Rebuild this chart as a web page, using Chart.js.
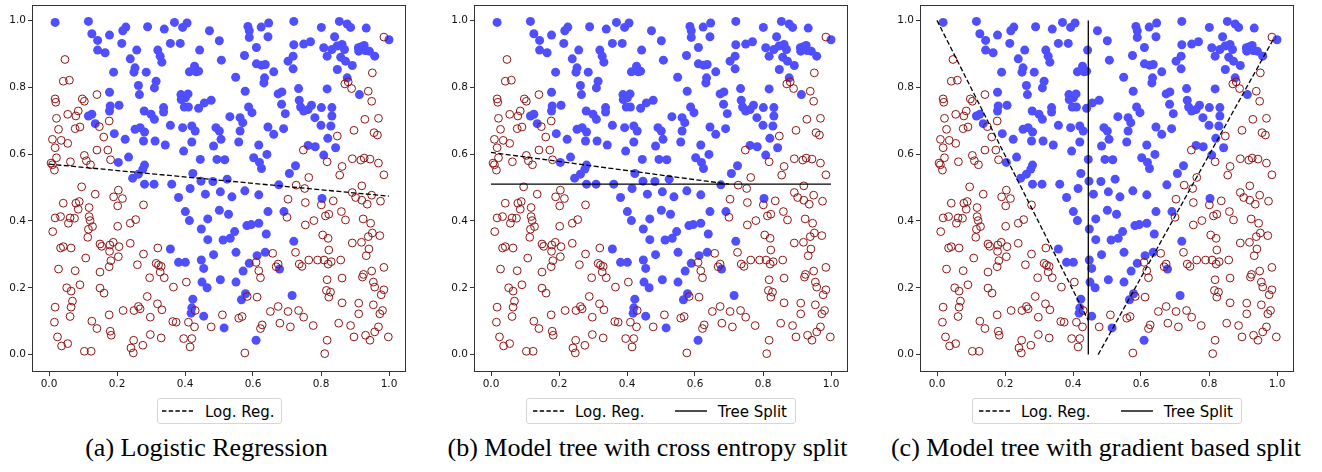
<!DOCTYPE html>
<html>
<head>
<meta charset="utf-8">
<script src="https://cdn.jsdelivr.net/npm/chart.js@4.4.1/dist/chart.umd.min.js"></script>
<style>
  body { margin: 0; width: 1322px; height: 472px; background: #fff; position: relative; overflow: hidden; font-family: "DejaVu Sans", sans-serif; }
  canvas.panel { position: absolute; top: 0; }
  .legend { position: absolute; top: 398px; height: 24px; border: 1px solid #d6d6d6; border-radius: 3px; background: #fff; }
  .ltext { position: absolute; top: 404.6px; font-size: 15px; line-height: 15px; color: #000; white-space: nowrap; }
  .lsample { position: absolute; top: 409px; }
  .caption { position: absolute; top: 435px; width: 500px; text-align: center; font-family: "Liberation Serif", serif; font-size: 26px; line-height: 26px; color: #000; white-space: nowrap; }
</style>
</head>
<body>
<canvas id="panelA" class="panel" width="414" height="395" style="left:0px"></canvas>
<canvas id="panelB" class="panel" width="414" height="395" style="left:442px"></canvas>
<canvas id="panelC" class="panel" width="414" height="395" style="left:888px"></canvas>

<!-- legends -->
<div class="legend" style="left:157px;width:123px"></div>
<svg class="lsample" style="left:162px" width="31" height="4"><line x1="0" y1="2" x2="31" y2="2" stroke="#000" stroke-width="1.4" stroke-dasharray="4.4 2.3"/></svg>
<div class="ltext" style="left:205px">Log. Reg.</div>

<div class="legend" style="left:526px;width:268px"></div>
<svg class="lsample" style="left:532.7px" width="31" height="4"><line x1="0" y1="2" x2="31" y2="2" stroke="#000" stroke-width="1.4" stroke-dasharray="4.4 2.3"/></svg>
<div class="ltext" style="left:575px">Log. Reg.</div>
<svg class="lsample" style="left:675px" width="32" height="4"><line x1="0" y1="2" x2="32" y2="2" stroke="#000" stroke-width="1.4"/></svg>
<div class="ltext" style="left:717.7px">Tree Split</div>

<div class="legend" style="left:972px;width:268px"></div>
<svg class="lsample" style="left:978.7px" width="31" height="4"><line x1="0" y1="2" x2="31" y2="2" stroke="#000" stroke-width="1.4" stroke-dasharray="4.4 2.3"/></svg>
<div class="ltext" style="left:1021px">Log. Reg.</div>
<svg class="lsample" style="left:1121px" width="32" height="4"><line x1="0" y1="2" x2="32" y2="2" stroke="#000" stroke-width="1.4"/></svg>
<div class="ltext" style="left:1163.7px">Tree Split</div>

<!-- captions -->
<div class="caption" style="left:-43.5px">(a) Logistic Regression</div>
<div class="caption" style="left:397.5px">(b) Model tree with cross entropy split</div>
<div class="caption" style="left:846px">(c) Model tree with gradient based split</div>

<script>
// tick positions and labels, shared by both axes of every panel
const tickValues = [0, 0.2, 0.4, 0.6, 0.8, 1.0];
const tickLabels = ['0.0', '0.2', '0.4', '0.6', '0.8', '1.0'];

// class 1 (filled blue) samples, [x, y]
const bluePoints = [
  [0.018,0.994],[0.116,0.997],[0.126,0.960],[0.178,0.956],[0.217,0.969],[0.226,0.980],[0.290,0.981],[0.339,0.974],
  [0.369,0.994],[0.393,0.979],[0.406,0.992],[0.472,0.969],[0.585,0.982],[0.589,0.969],[0.624,0.980],[0.646,0.992],
  [0.720,0.997],[0.801,0.979],[0.854,0.997],[0.877,0.989],[0.887,0.979],[0.933,0.977],
  [0.143,0.940],[0.143,0.911],[0.165,0.903],[0.214,0.931],[0.258,0.911],[0.320,0.911],[0.357,0.931],[0.386,0.931],
  [0.443,0.911],[0.501,0.939],[0.589,0.949],[0.610,0.919],[0.644,0.951],[0.720,0.927],[0.749,0.929],[0.769,0.936],
  [0.808,0.918],[0.840,0.951],[0.832,0.913],[0.847,0.923],[0.862,0.928],[0.869,0.913],[0.910,0.918],[0.917,0.920],
  [0.927,0.925],[0.930,0.910],[0.911,0.908],[0.942,0.908],[1.000,0.942],
  [0.190,0.845],[0.239,0.885],[0.253,0.858],[0.250,0.845],[0.286,0.845],[0.327,0.893],[0.332,0.875],[0.413,0.846],
  [0.428,0.863],[0.433,0.846],[0.440,0.848],[0.507,0.881],[0.549,0.830],[0.575,0.895],[0.610,0.870],[0.625,0.866],
  [0.636,0.868],[0.661,0.846],[0.703,0.878],[0.718,0.893],[0.718,0.855],[0.818,0.893],[0.858,0.890],[0.872,0.878],
  [0.848,0.853],[0.892,0.865],[0.958,0.893],
  [0.263,0.805],[0.266,0.778],[0.178,0.785],[0.315,0.818],[0.310,0.798],[0.388,0.778],[0.401,0.768],[0.409,0.780],
  [0.577,0.788],[0.632,0.813],[0.634,0.828],[0.674,0.780],[0.685,0.786],[0.734,0.796],[0.818,0.795],[0.877,0.828],
  [0.913,0.778],
  [0.116,0.714],[0.126,0.719],[0.136,0.691],[0.180,0.744],[0.178,0.729],[0.206,0.746],[0.280,0.729],[0.300,0.719],
  [0.310,0.704],[0.337,0.739],[0.337,0.726],[0.389,0.763],[0.398,0.741],[0.410,0.741],[0.440,0.737],[0.457,0.753],
  [0.477,0.761],[0.532,0.712],[0.562,0.709],[0.570,0.694],[0.587,0.741],[0.597,0.724],[0.684,0.749],[0.695,0.721],
  [0.736,0.761],[0.740,0.741],[0.749,0.729],[0.762,0.733],[0.772,0.746],[0.782,0.709],[0.801,0.739],[0.832,0.739],
  [0.832,0.714],[0.800,0.686],
  [0.253,0.674],[0.268,0.679],[0.281,0.666],[0.278,0.639],[0.192,0.661],[0.224,0.644],[0.312,0.639],[0.342,0.627],
  [0.357,0.686],[0.393,0.679],[0.420,0.684],[0.430,0.669],[0.420,0.636],[0.491,0.679],[0.501,0.669],[0.506,0.644],
  [0.484,0.624],[0.558,0.636],[0.562,0.669],[0.617,0.627],[0.644,0.681],[0.661,0.659],[0.690,0.676],[0.762,0.626],
  [0.783,0.622],[0.820,0.647],[0.843,0.619],[0.829,0.684],
  [0.204,0.575],[0.234,0.591],[0.246,0.528],[0.263,0.540],[0.276,0.555],[0.281,0.567],[0.281,0.510],[0.309,0.510],
  [0.396,0.609],[0.423,0.542],[0.415,0.497],[0.445,0.584],[0.447,0.519],[0.482,0.518],[0.494,0.584],[0.517,0.583],
  [0.524,0.525],[0.602,0.589],[0.619,0.575],[0.625,0.557],[0.641,0.599],[0.676,0.508],[0.707,0.542],[0.725,0.565],
  [0.808,0.597],
  [0.361,0.510],[0.381,0.470],[0.460,0.480],[0.504,0.487],[0.538,0.472],[0.576,0.490],[0.617,0.478],[0.803,0.467],
  [0.401,0.428],[0.413,0.401],[0.467,0.406],[0.501,0.432],[0.528,0.420],[0.644,0.428],[0.691,0.428],
  [0.448,0.376],[0.467,0.344],[0.512,0.343],[0.533,0.348],[0.546,0.368],[0.582,0.386],[0.595,0.389],[0.617,0.393],
  [0.639,0.361],[0.357,0.316],[0.381,0.276],[0.401,0.276],[0.448,0.283],[0.455,0.258],[0.484,0.299],[0.550,0.306],
  [0.612,0.296],[0.636,0.306],[0.589,0.273],[0.720,0.339],[0.571,0.250],[0.678,0.256],
  [0.450,0.217],[0.465,0.200],[0.504,0.224],[0.550,0.217],[0.578,0.182],[0.566,0.164],[0.715,0.177],[0.423,0.166],
  [0.420,0.140],[0.418,0.124],[0.455,0.115],[0.515,0.080],[0.609,0.043]
];

// class 0 (hollow red) samples, [x, y]
const redPoints = [
  [0.047,0.883],[0.042,0.818],[0.060,0.821],[0.018,0.765],[0.020,0.755],[0.022,0.707],[0.055,0.719],[0.086,0.729],
  [0.079,0.714],[0.141,0.778],[0.098,0.765],[0.104,0.758],[0.077,0.676],[0.091,0.681],[0.028,0.674],[0.010,0.644],
  [0.036,0.641],[0.055,0.632],[0.018,0.619],[0.022,0.589],[0.006,0.573],[0.010,0.568],[0.016,0.552],[0.063,0.577],
  [0.104,0.596],[0.110,0.580],[0.122,0.568],[0.141,0.612],[0.148,0.682],[0.161,0.651],[0.173,0.612],[0.177,0.699],
  [0.181,0.583],[0.096,0.502],[0.136,0.480],[0.042,0.453],[0.079,0.453],[0.086,0.435],[0.089,0.458],[0.118,0.440],
  [0.118,0.413],[0.121,0.401],[0.018,0.409],[0.034,0.413],[0.062,0.409],[0.075,0.408],[0.057,0.393],[0.011,0.368],
  [0.116,0.375],[0.114,0.351],[0.128,0.383],[0.034,0.319],[0.042,0.323],[0.065,0.319],[0.108,0.289],[0.028,0.256],
  [0.077,0.251],[0.052,0.200],[0.065,0.190],[0.069,0.160],[0.065,0.142],[0.091,0.209],[0.018,0.142],[0.016,0.097],
  [0.062,0.114],[0.025,0.053],[0.037,0.026],[0.055,0.033],[0.104,0.010],[0.124,0.010],[0.126,0.100],[0.141,0.078],
  [0.150,0.331],[0.155,0.324],[0.179,0.328],[0.189,0.336],[0.178,0.309],[0.182,0.281],[0.177,0.263],[0.150,0.247],
  [0.150,0.199],[0.162,0.184],[0.206,0.323],[0.204,0.293],[0.202,0.384],[0.190,0.472],[0.204,0.492],[0.216,0.467],
  [0.202,0.445],[0.218,0.132],[0.177,0.119],[0.180,0.070],[0.183,0.058],[0.239,0.333],[0.239,0.393],[0.255,0.404],
  [0.278,0.448],[0.260,0.269],[0.278,0.301],[0.250,0.132],[0.263,0.144],[0.268,0.137],[0.241,0.020],[0.249,0.043],
  [0.248,0.005],[0.276,0.028],[0.289,0.174],[0.298,0.112],[0.296,0.230],[0.298,0.060],[0.315,0.273],[0.320,0.319],
  [0.322,0.268],[0.327,0.247],[0.330,0.264],[0.339,0.230],[0.319,0.152],[0.332,0.134],[0.330,0.050],[0.364,0.099],
  [0.374,0.097],[0.366,0.202],[0.404,0.217],[0.410,0.097],[0.396,0.048],[0.420,0.048],[0.415,0.023],[0.428,0.083],
  [0.430,0.132],[0.477,0.083],[0.510,0.119],
  [0.985,0.950],[0.880,0.816],[0.870,0.810],[0.890,0.796],[0.939,0.788],[0.951,0.843],[0.949,0.758],[0.929,0.704],
  [0.969,0.707],[0.897,0.671],[0.956,0.664],[0.966,0.657],[0.848,0.654],[0.748,0.612],[0.818,0.577],[0.862,0.563],
  [0.855,0.537],[0.892,0.586],[0.917,0.582],[0.927,0.588],[0.944,0.585],[0.969,0.573],[0.985,0.538],[0.764,0.530],
  [0.727,0.507],[0.752,0.497],[0.703,0.465],[0.754,0.455],[0.754,0.388],[0.779,0.401],[0.801,0.448],[0.813,0.415],
  [0.823,0.420],[0.836,0.460],[0.860,0.428],[0.872,0.403],[0.892,0.485],[0.902,0.470],[0.920,0.505],[0.920,0.462],
  [0.949,0.477],[0.936,0.450],[0.975,0.459],[0.924,0.406],[0.946,0.393],[0.939,0.353],[0.973,0.356],[0.951,0.364],
  [0.919,0.336],[0.892,0.334],[0.941,0.316],[0.933,0.296],[0.805,0.358],[0.821,0.348],[0.823,0.313],[0.700,0.411],
  [0.725,0.306],[0.736,0.271],[0.764,0.283],[0.790,0.283],[0.809,0.283],[0.821,0.271],[0.830,0.278],[0.858,0.283],
  [0.862,0.229],[0.818,0.224],[0.744,0.264],[0.658,0.303],[0.668,0.263],[0.674,0.271],[0.609,0.276],[0.617,0.251],
  [0.622,0.230],[0.583,0.174],[0.612,0.172],[0.568,0.114],[0.558,0.109],[0.651,0.129],[0.674,0.144],[0.703,0.129],
  [0.734,0.132],[0.749,0.112],[0.679,0.094],[0.710,0.083],[0.777,0.087],[0.627,0.089],[0.622,0.078],[0.576,0.005],
  [0.818,0.043],[0.811,0.003],[0.816,0.192],[0.828,0.187],[0.823,0.172],[0.862,0.155],[0.911,0.154],[0.911,0.122],
  [0.852,0.094],[0.887,0.087],[0.897,0.053],[0.931,0.058],[0.944,0.043],[0.958,0.068],[0.969,0.083],[0.954,0.149],
  [0.973,0.122],[0.981,0.132],[0.985,0.194],[0.977,0.179],[0.954,0.217],[0.958,0.202],[0.949,0.250],[0.925,0.240],
  [0.922,0.232],[0.985,0.261],[0.998,0.053]
];

// decision boundaries, null breaks the line
const logRegA = [[0.0, 0.570], [1.0, 0.474]];
const logRegB = [[0.0, 0.605], [0.70, 0.510]];
const treeSplitB = [[0.0, 0.510], [1.0, 0.510]];
const logRegC = [[0.0, 1.0], [0.445, 0.102], [0.46, null], [0.474, 0.0], [0.99, 0.945]];
const treeSplitC = [[0.445, 0.0], [0.445, 1.0]];

const toXY = arr => arr.map(p => ({ x: p[0], y: p[1] }));

const framePlugin = {
    id: 'frame',
    afterDraw(chart) {
        const { ctx, chartArea: a } = chart;
        ctx.save();
        ctx.strokeStyle = '#333';
        ctx.lineWidth = 1;
        ctx.strokeRect(Math.round(a.left) + 0.5, Math.round(a.top) + 0.5,
            Math.round(a.right - a.left) - 1, Math.round(a.bottom - a.top) - 1);
        ctx.restore();
    }
};

function lineSet(pts, dashed) {
    return {
        data: toXY(pts),
        showLine: true,
        spanGaps: false,
        borderColor: '#000',
        borderWidth: 1.3,
        borderDash: dashed ? [5, 2.4] : [],
        pointRadius: 0,
        fill: false,
    };
}

function axis(isX) {
    return {
        type: 'linear',
        min: isX ? -0.05 : -0.052,
        max: isX ? 1.05 : 1.046,
        afterBuildTicks: s => { s.ticks = tickValues.map(v => ({ value: v })); },
        afterFit: s => {
            if (isX) { s.height = 23; s.paddingLeft = 0; s.paddingRight = 0; }
            else { s.width = 32; s.paddingTop = 0; s.paddingBottom = 0; }
        },
        grid: { drawOnChartArea: false, tickLength: 4, color: '#333', tickWidth: 1 },
        border: { display: false },
        ticks: {
            autoSkip: false,
            maxRotation: 0,
            padding: 2,
            color: '#111',
            font: { family: 'DejaVu Sans', size: 10.5 },
            callback: (v, i) => tickLabels[i],
        },
    };
}

function makePanel(id, lines) {
    new Chart(document.getElementById(id), {
        type: 'scatter',
        data: {
            datasets: [
                ...lines,
                {
                    data: toXY(redPoints),
                    pointRadius: 3.9,
                    pointBorderWidth: 1,
                    pointBackgroundColor: 'rgba(255,255,255,0)',
                    pointBorderColor: '#8e1414',
                },
                {
                    data: toXY(bluePoints),
                    pointRadius: 4.5,
                    pointBorderWidth: 0,
                    pointBackgroundColor: '#4f4fff',
                    pointBorderColor: '#4f4fff',
                },
            ],
        },
        options: {
            responsive: false,
            animation: false,
            layout: { padding: { top: 2, right: 8, left: 0, bottom: 0 } },
            plugins: { legend: { display: false }, tooltip: { enabled: false } },
            scales: { x: axis(true), y: axis(false) },
        },
        plugins: [framePlugin],
    });
}

makePanel('panelA', [lineSet(logRegA, true)]);
makePanel('panelB', [lineSet(logRegB, true), lineSet(treeSplitB, false)]);
makePanel('panelC', [lineSet(logRegC, true), lineSet(treeSplitC, false)]);
</script>
</body>
</html>
